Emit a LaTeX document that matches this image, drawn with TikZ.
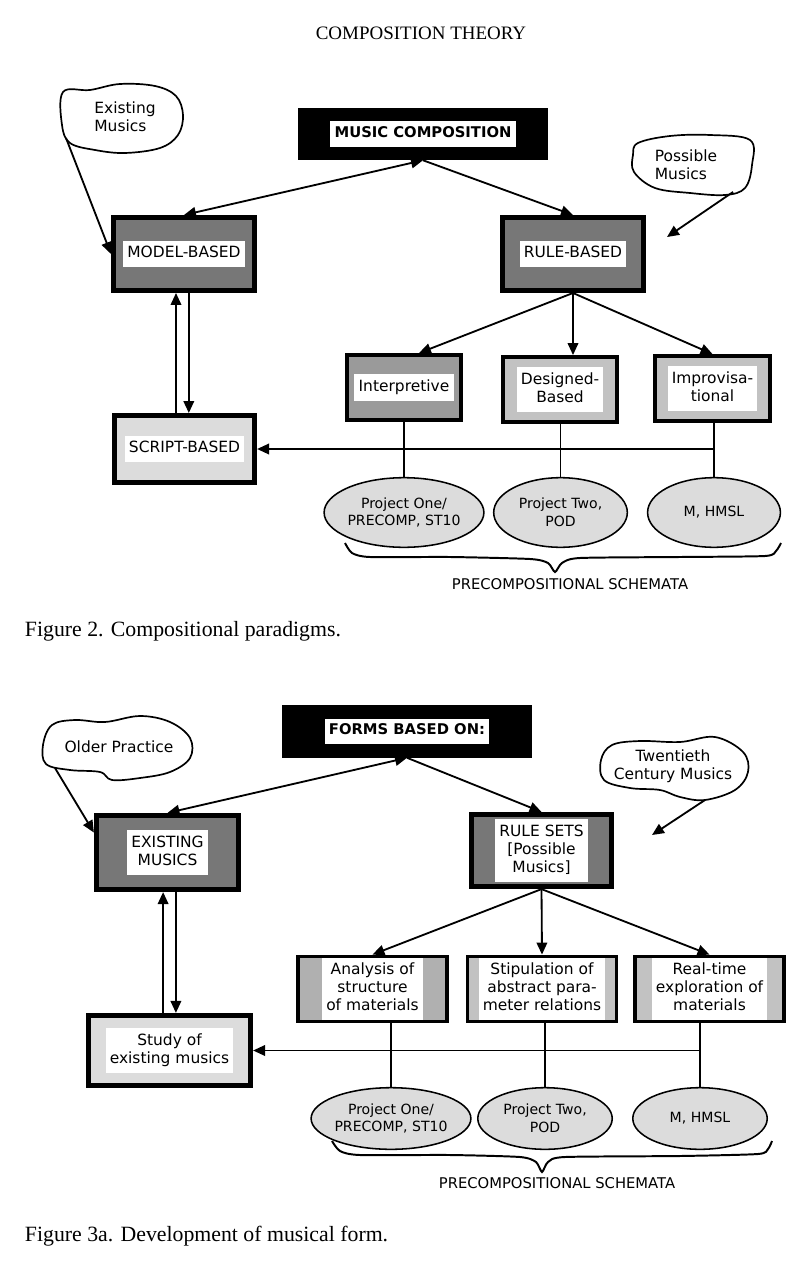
\documentclass[tikz,border=0pt]{standalone}
\usepackage{fontspec}
\setmainfont{Liberation Serif}
\newfontfamily\macfont{DejaVu Sans}
\usepackage{tikz}
\usetikzlibrary{arrows.meta,shapes.geometric}
\definecolor{stipdark}{HTML}{777777}
\definecolor{stipmid}{HTML}{9A9A9A}
\definecolor{stipsoft}{HTML}{B0B0B0}
\definecolor{stiplight}{HTML}{C2C2C2}
\definecolor{stippale}{HTML}{DCDCDC}
\newcommand{\wlabel}[1]{{\setlength{\fboxsep}{3pt}\colorbox{white}{\begin{tabular}{@{}c@{}}#1\end{tabular}}}}

\begin{document}
\begin{tikzpicture}[x=0.025cm, y=-0.025cm,
  every node/.style={font=\macfont\fontsize{11}{12.8}\selectfont},
  topbox/.style={fill=black, minimum width=6.25cm, minimum height=1.3cm, inner sep=0pt,
    font=\macfont\bfseries\fontsize{10.5}{12}\selectfont},
  bigbox/.style={draw=black, line width=3.4pt, minimum width=3.53cm, minimum height=1.83cm, inner sep=0pt},
  smallbox/.style={draw=black, line width=2.6pt, minimum width=2.86cm, minimum height=1.63cm, inner sep=0pt},
  oval/.style={ellipse, draw=black, line width=1.1pt, fill=stippale, inner sep=0pt, minimum height=1.74cm, align=center,
    font=\macfont\fontsize{10}{12.5}\selectfont},
  arr/.style={line width=1.3pt, -{Triangle[length=8.5pt,width=7.5pt]}},
  arrs/.style={line width=1.3pt, {Triangle[length=8.5pt,width=7.5pt]}-{Triangle[length=8.5pt,width=7.5pt]}},
  wire/.style={line width=1.4pt},
  blob/.style={line width=1.2pt},
  schtxt/.style={font=\macfont\fontsize{10.5}{12}\selectfont},
  figcap/.style={font=\rmfamily\fontsize{15.5}{18}\selectfont, anchor=west},
  headtxt/.style={font=\rmfamily\fontsize{13.5}{16}\selectfont}]
  \fill[white] (0,0) rectangle (800,1273);
  \node[headtxt] (head) at (421,33) {COMPOSITION THEORY};

  % Figure 2
  \node[topbox] (mc) at (423,134) {\wlabel{MUSIC COMPOSITION}};
  \node[bigbox, fill=stipdark] (model) at (184,254) {\wlabel{MODEL-BASED}};
  \node[bigbox, fill=stipdark] (rule) at (573,254) {\wlabel{RULE-BASED}};
  \node[bigbox, fill=stippale, minimum width=3.51cm, minimum height=1.68cm] (script) at (184.5,449) {\wlabel{SCRIPT-BASED}};
  \node[smallbox, fill=stipmid] (interp) at (404,387.5) {\wlabel{Interpretive}};
  \node[smallbox, fill=stiplight] (des) at (560,389.5) {\wlabel{Designed-\\Based}};
  \node[smallbox, fill=stiplight] (impro) at (712.5,388.5) {\wlabel{Improvisa-\\tional}};
  \node[oval, minimum width=3.51cm] (p1) at (404,512.5) {Project One/\\PRECOMP, ST10};
  \node[oval, minimum width=3.34cm] (p2) at (560.5,512.5) {Project Two,\\POD};
  \node[oval, minimum width=3.32cm] (p3) at (714,512.5) {M, HMSL};

  \node[align=left] (c1) at (125,117) {Existing\\Musics};
  \draw[blob] plot[smooth cycle, tension=0.6] coordinates {(63,92) (90,90) (120,84) (155,86) (176,96) (183,115) (178,135) (160,148) (125,153) (95,150) (70,143) (62,125)};
  \coordinate (c1a) at (66,138);
  \node[align=left] (c2) at (686,165) {Possible\\Musics};
  \draw[blob] plot[smooth cycle, tension=0.6] coordinates {(638,143) (670,136) (710,135) (750,140) (752,165) (745,188) (725,195) (690,193) (655,188) (634,172) (633,155)};
  \coordinate (c2a) at (733,192);
  \coordinate (c2b) at (667,237);

  \draw[arrs] (mc.south) -- (model.north);
  \draw[arr] (mc.south) -- (rule.north);
  \draw[arr] (c1a) -- (model.west);
  \draw[arr] (c2a) -- (c2b);
  \draw[arr] ([xshift=-0.2cm]model.south |- script.north) -- ([xshift=-0.2cm]model.south);
  \draw[arr] ([xshift=0.12cm]model.south) -- ([xshift=0.12cm]model.south |- script.north);
  \draw[arr] (rule.south) -- ([xshift=0.375cm]interp.north);
  \draw[arr] (rule.south) -- (rule.south |- des.north);
  \draw[arr] (rule.south) -- (impro.north);
  \draw[wire] (p1.north |- interp.south) -- (p1.north);
  \draw[wire] (p2.north |- des.south) -- (p2.north);
  \draw[wire] (p3.north |- impro.south) -- (p3.north);
  \draw[arr] (p3.north |- script.east) -- (script.east);

  \draw[wire] plot[smooth, tension=0.4] coordinates {(345,543) (352,553) (370,557) (450,557) (530,559) (548,563) (555,572) (562,563) (580,558) (680,557) (765,556) (776,551) (781,543)};
  \node[schtxt] (sch1) at (570,584) {PRECOMPOSITIONAL SCHEMATA};
  \node[figcap] (cap2) at (20,631) {Figure 2. Compositional paradigms.};

  % Figure 3a
  \node[topbox] (forms) at (407,731.5) {\wlabel{FORMS BASED ON:}};
  \node[bigbox, fill=stipdark, minimum width=3.56cm, minimum height=1.86cm] (ex) at (167.5,852.5) {\wlabel{EXISTING\\MUSICS}};
  \node[bigbox, fill=stipdark, minimum width=3.51cm, minimum height=1.81cm] (rs) at (541.5,850.5) {\wlabel{RULE SETS\\{[Possible}\\Musics]}};
  \node[bigbox, fill=stippale, minimum width=4.06cm, minimum height=1.76cm] (study) at (169.5,1050.5) {\wlabel{Study of\\existing musics}};
  \node[smallbox, fill=stipsoft, minimum width=3.73cm] (ana) at (372.5,989) {\wlabel{Analysis of\\structure\\of materials}};
  \node[smallbox, fill=stiplight, minimum width=3.73cm] (stip) at (542,989) {\wlabel{Stipulation of\\abstract para-\\meter relations}};
  \node[smallbox, fill=stiplight, minimum width=3.73cm] (real) at (709.5,989) {\wlabel{Real-time\\exploration of\\materials}};
  \node[oval, minimum width=3.51cm, minimum height=1.54cm] (q1) at (391,1118.5) {Project One/\\PRECOMP, ST10};
  \node[oval, minimum width=3.36cm, minimum height=1.54cm] (q2) at (545,1118.5) {Project Two,\\POD};
  \node[oval, minimum width=3.36cm, minimum height=1.54cm] (q3) at (700,1118.5) {M, HMSL};

  \node (c3) at (119,747) {Older Practice};
  \draw[blob] plot[smooth cycle, tension=0.6] coordinates {(52,725) (75,720) (105,722) (140,716) (170,722) (190,738) (190,758) (170,772) (140,778) (112,780) (100,772) (70,770) (46,764) (43,745)};
  \coordinate (c3a) at (55,768);
  \node[align=center] (c4) at (673,766) {Twentieth\\Century Musics};
  \draw[blob] plot[smooth cycle, tension=0.6] coordinates {(612,745) (640,741) (680,742) (715,737) (743,752) (748,772) (735,790) (705,800) (680,797) (660,790) (630,788) (604,780) (601,760)};
  \coordinate (c4a) at (705,800);
  \coordinate (c4b) at (652,835);

  \draw[arrs] (forms.south) -- (ex.north);
  \draw[arr] (forms.south) -- (rs.north);
  \draw[arr] (c3a) -- ([yshift=0.5cm]ex.west);
  \draw[arr] (c4a) -- (c4b);
  \draw[arr] ([xshift=-0.11cm]ex.south |- study.north) -- ([xshift=-0.11cm]ex.south);
  \draw[arr] ([xshift=0.21cm]ex.south) -- ([xshift=0.21cm]ex.south |- study.north);
  \draw[arr] (rs.south) -- (ana.north);
  \draw[arr] (rs.south) -- (stip.north);
  \draw[arr] (rs.south) -- (real.north);
  \draw[wire] (q1.north |- ana.south) -- (q1.north);
  \draw[wire] (q2.north |- stip.south) -- (q2.north);
  \draw[wire] (q3.north |- real.south) -- (q3.north);
  \draw[arr] (q3.north |- study.east) -- (study.east);

  \draw[wire] plot[smooth, tension=0.4] coordinates {(332,1141) (340,1151) (360,1155) (450,1155) (520,1157) (536,1162) (542,1172) (548,1162) (565,1157) (680,1156) (758,1154) (768,1149) (772,1141)};
  \node[schtxt] (sch2) at (557,1183) {PRECOMPOSITIONAL SCHEMATA};
  \node[figcap] (cap3) at (20,1236) {Figure 3a. Development of musical form.};
\end{tikzpicture}
\end{document}
